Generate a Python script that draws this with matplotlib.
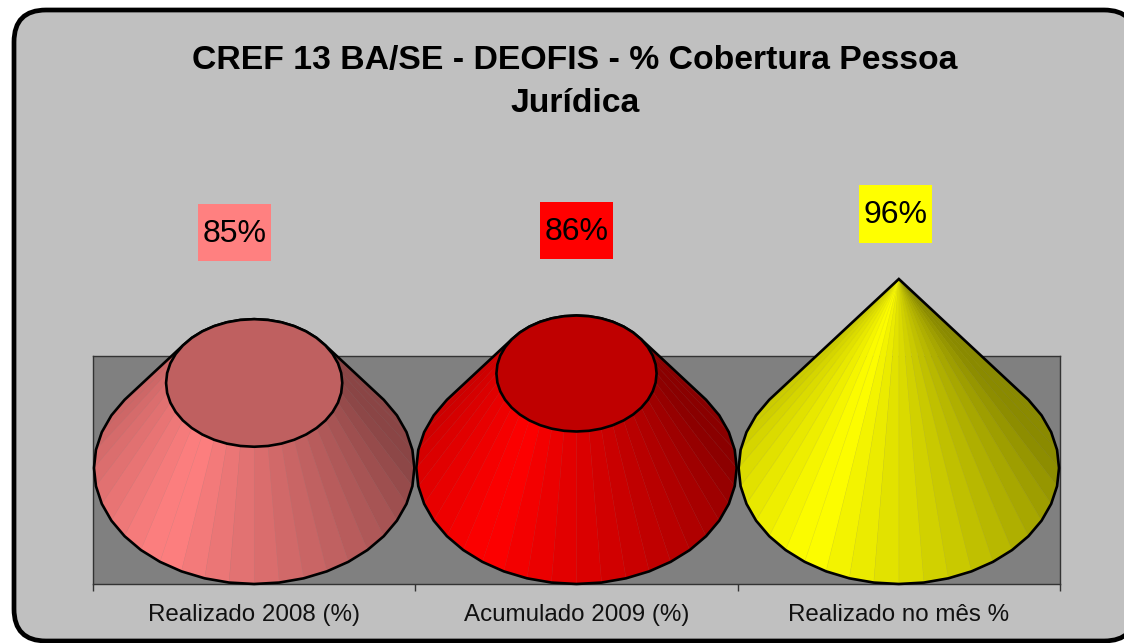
import numpy as np, matplotlib
matplotlib.use("Agg"); import matplotlib.pyplot as plt
from matplotlib.patches import FancyBboxPatch, Polygon, Rectangle
from matplotlib.transforms import Affine2D

categories=["Realizado 2008 (%)","Acumulado 2009 (%)","Realizado no mês %"]
values=[85,86,96]
colors=["#FF8080","#FF0000","#FFFF00"]
title_lines=["CREF 13 BA/SE - DEOFIS - % Cobertura Pessoa","Jurídica"]

W,H=1124,643
plt.rcParams["font.family"]=["Liberation Sans","DejaVu Sans"]
fig=plt.figure(figsize=(W/100,H/100),dpi=100,facecolor="white")
px=Affine2D().scale(1,-1).translate(0,H)   # figure pixels, y down

# frame runs off the right and bottom edge of the image in the original
fig.add_artist(FancyBboxPatch((14,10),1122,631,boxstyle="round,pad=0,rounding_size=32",
    transform=px,fc="#C0C0C0",ec="black",lw=3.4,zorder=-5))

ax=fig.add_axes([93/W,1-584/H,967/W,228/H],facecolor="#808080")
vmin=76; vmax=max(values); scale=189/(vmax-vmin)   # px per unit on the hidden value axis
ry=116/scale; rx=0.497
ax.set_xlim(0,3); ax.set_ylim(vmin-ry,vmin-ry+228/scale)
ax.set_yticks([])
ax.set_xticks([0,1,2,3]); ax.set_xticklabels([])
ax.set_xticks([0.5,1.5,2.5],categories,minor=True)
ax.tick_params(axis="x",which="major",length=5,width=1,color="#333333")
ax.tick_params(axis="x",which="minor",length=0,labelsize=17.4,pad=14.5,labelcolor="#111111")
for s in ax.spines.values(): s.set_color("#333333"); s.set_linewidth(1)

def shade(c,f):
    rgb=np.array(matplotlib.colors.to_rgb(c)); return tuple(rgb*f)
def brightness(t):
    d=(np.degrees(t)+125+180)%360-180    # >0 towards the right, <0 towards the left
    if d>=0: return max(0.54,1-0.0037*d)
    return max(0.8,1+0.0028*d)
def hull(pts):
    pts=sorted(map(tuple,pts))
    def half(ps):
        out=[]
        for p in ps:
            while len(out)>1 and (out[-1][0]-out[-2][0])*(p[1]-out[-2][1])-(out[-1][1]-out[-2][1])*(p[0]-out[-2][0])<=0: out.pop()
            out.append(p)
        return out[:-1]
    return half(pts)+half(pts[::-1])

N=40; th=np.linspace(0,2*np.pi,N+1)
for i,(v,c) in enumerate(zip(values,colors)):
    x0=i+0.5; frac=(vmax-v)/(vmax-vmin)
    bx=x0+rx*np.cos(th); by=vmin+ry*np.sin(th)
    tx=x0+frac*rx*np.cos(th); ty=v+frac*ry*np.sin(th)
    order=np.argsort(-np.sin(th[:-1]+np.pi/N))
    for k in order:
        col=shade(c,brightness(th[k]+np.pi/N))
        ec=tuple(0.9*np.array(col)+0.1*0.5)
        ax.add_patch(Polygon([(bx[k],by[k]),(bx[k+1],by[k+1]),(tx[k+1],ty[k+1]),(tx[k],ty[k])],
            fc=col,ec=ec,lw=0.3,clip_on=False,zorder=3))
    outline=hull(np.r_[np.c_[bx[:-1],by[:-1]],np.c_[tx[:-1],ty[:-1]]])
    ax.add_patch(Polygon(outline,closed=True,fill=False,ec="black",lw=1.9,clip_on=False,zorder=4))
    if frac>0:
        ax.add_patch(Polygon(np.c_[tx[:-1],ty[:-1]],fc=shade(c,0.75),ec="black",lw=1.9,clip_on=False,zorder=5))

for y,line in zip([60,104],title_lines):
    fig.text(575/W,1-y/H,line,ha="center",va="center",fontsize=24.35,fontweight="bold")

# data labels sit where they were dragged in the original, so these are pixel boxes
label_boxes=[(198,204,73,57),(540,202,73,57),(859,185,73,58)]
for (x,y,w,h),v,c in zip(label_boxes,values,colors):
    fig.add_artist(Rectangle((x,y),w,h,transform=px,fc=c,ec="none",zorder=6))
    fig.text((x+w/2)/W,1-(y+h/2+1)/H,f"{v}%",ha="center",va="center",fontsize=23,zorder=7)

fig.savefig("out.png",dpi=100)
